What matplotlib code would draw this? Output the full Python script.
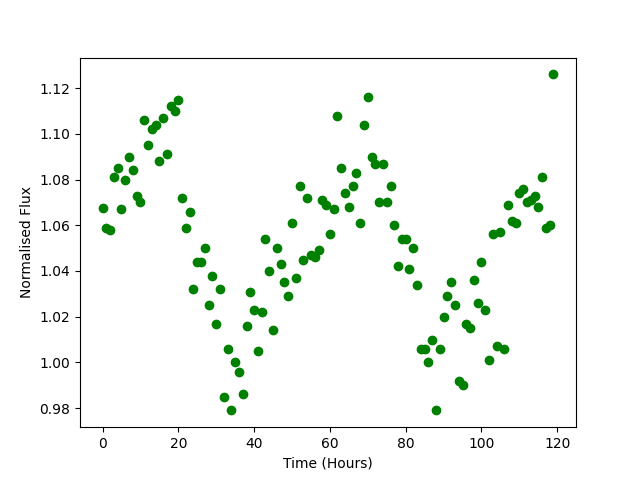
import matplotlib
matplotlib.use("Agg")
import matplotlib.pyplot as plt
import numpy as np

hours = list(range(120))
flux = [
    1.0675, 1.059, 1.058, 1.081, 1.085, 1.067, 1.080, 1.090, 1.084, 1.073,
    1.070, 1.106, 1.095, 1.102, 1.104, 1.088, 1.107, 1.091, 1.112, 1.110,
    1.115, 1.072, 1.059, 1.066, 1.032, 1.044, 1.044, 1.050, 1.025, 1.038,
    1.017, 1.032, 0.985, 1.006, 0.979, 1.000, 0.996, 0.986, 1.016, 1.031,
    1.023, 1.005, 1.022, 1.054, 1.040, 1.014, 1.050, 1.043, 1.035, 1.029,
    1.061, 1.037, 1.077, 1.045, 1.072, 1.047, 1.046, 1.049, 1.071, 1.069,
    1.056, 1.067, 1.108, 1.085, 1.074, 1.068, 1.077, 1.083, 1.061, 1.104,
    1.116, 1.090, 1.087, 1.070, 1.087, 1.070, 1.077, 1.060, 1.042, 1.054,
    1.054, 1.041, 1.050, 1.034, 1.006, 1.006, 1.000, 1.010, 0.979, 1.006,
    1.020, 1.029, 1.035, 1.025, 0.992, 0.990, 1.017, 1.015, 1.036, 1.026,
    1.044, 1.023, 1.001, 1.056, 1.007, 1.057, 1.006, 1.069, 1.062, 1.061,
    1.074, 1.076, 1.070, 1.071, 1.073, 1.068, 1.081, 1.059, 1.060, 1.126,
]

fig, ax = plt.subplots(figsize=(6.4, 4.8), dpi=100)
ax.scatter(hours, flux, color="green")
ax.set_xlabel("Time (Hours)")
ax.set_ylabel("Normalised Flux")
fig.savefig("out.png")
